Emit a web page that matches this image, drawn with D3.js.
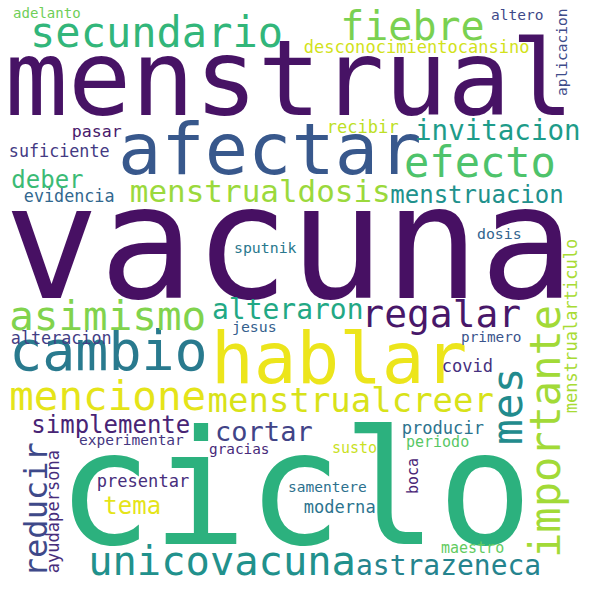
<!DOCTYPE html>
<html><head><meta charset="utf-8">
<script src="https://cdn.jsdelivr.net/npm/d3@7"></script>
<style>html,body{margin:0;padding:0;background:#fff;}svg{display:block;}</style>
</head><body>
<svg id="chart" width="590" height="590"></svg>
<script>
// Words of the cloud
const words = ["menstrual","vacuna","ciclo","afectar","hablar","cambio","secundario","fiebre","efecto","invitacion",
"desconocimientocansino","altero","aplicacion","adelanto","pasar","suficiente","deber","evidencia","menstrualdosis","menstruacion",
"recibir","dosis","sputnik","asimismo","alteraron","jesus","alteracion","regalar","primero","covid",
"mes","importante","menstrualarticulo","mencione","menstrualcreer","simplemente","experimentar","cortar","gracias","producir",
"periodo","susto","reducir","ayudapersona","presentar","tema","samentere","boca","moderna","unicovacuna",
"astrazeneca","maestro"];
// Relative frequency (1 = largest word)
const weights = [0.665,1.0,1.0,0.456,0.449,0.348,0.266,0.253,0.266,0.174,
0.108,0.092,0.092,0.089,0.105,0.106,0.152,0.106,0.196,0.152,
0.108,0.094,0.094,0.259,0.177,0.094,0.106,0.240,0.091,0.108,
0.272,0.266,0.108,0.259,0.215,0.152,0.092,0.171,0.091,0.108,
0.095,0.095,0.203,0.108,0.108,0.152,0.092,0.095,0.108,0.256,
0.177,0.095];
// Colour position on the viridis map
const tones = [0.05,0.04,0.64,0.27,0.97,0.41,0.66,0.80,0.72,0.55,
0.93,0.22,0.23,0.78,0.07,0.17,0.68,0.33,0.85,0.50,
0.90,0.32,0.40,0.81,0.60,0.30,0.18,0.06,0.26,0.14,
0.48,0.86,0.87,0.96,0.94,0.10,0.16,0.20,0.12,0.38,
0.74,0.92,0.22,0.13,0.13,0.96,0.37,0.10,0.38,0.50,
0.45,0.76];
// Orientation: 0 horizontal, 1 vertical (reads upward)
const vertical = [0,0,0,0,0,0,0,0,0,0,
0,0,1,0,0,0,0,0,0,0,
0,0,0,0,0,0,0,0,0,0,
1,1,1,0,0,0,0,0,0,0,
0,0,1,1,0,0,0,1,0,0,
0,0];
// Layout (fraction of the canvas): text start and baseline
const layoutX = [12,15,68,123,216,13,33,343,407,417,
305,492,567,14,73,10,13,25,132,392,
328,478,235,12,214,233,12,364,462,443,
522,560,577,12,210,33,80,217,210,403,
407,333,47,59,98,105,289,418,305,91,
358,442].map(v => v/590);
const layoutY = [115,298,544,174,383,370,47,40,177,140,
53,20,95,18,137,157,188,202,202,203,
133,239,253,330,319,332,344,327,342,372,
442,555,412,410,412,433,445,441,454,434,
447,453,575,572,487,514,492,493,513,575,
575,553].map(v => v/590);

const W = 590, H = 590;
const svg = d3.select("#chart");
const x = d3.scaleLinear().domain([0,1]).range([0,W]);
const y = d3.scaleLinear().domain([0,1]).range([0,H]);
const size = d3.scaleLinear().domain([0,1]).range([0,158]);
const color = d3.scaleSequential(d3.interpolateViridis).domain([0,1]);
const LSB = 0.07;

const data = words.map((w,i)=>({w, fs:size(weights[i]), t:tones[i], v:vertical[i], px:x(layoutX[i]), py:y(layoutY[i])}));

svg.append("rect").attr("width",W).attr("height",H).attr("fill","#fff");
svg.selectAll("text.word").data(data).join("text")
  .attr("class","word")
  .attr("font-family","'DejaVu Sans Mono', monospace")
  .attr("font-size", d=>d.fs)
  .attr("fill", d=>color(d.t))
  .attr("transform", d => d.v
      ? `translate(${d.px},${d.py + LSB*d.fs}) rotate(-90)`
      : `translate(${d.px - LSB*d.fs},${d.py})`)
  .text(d=>d.w);
</script>
</body></html>
